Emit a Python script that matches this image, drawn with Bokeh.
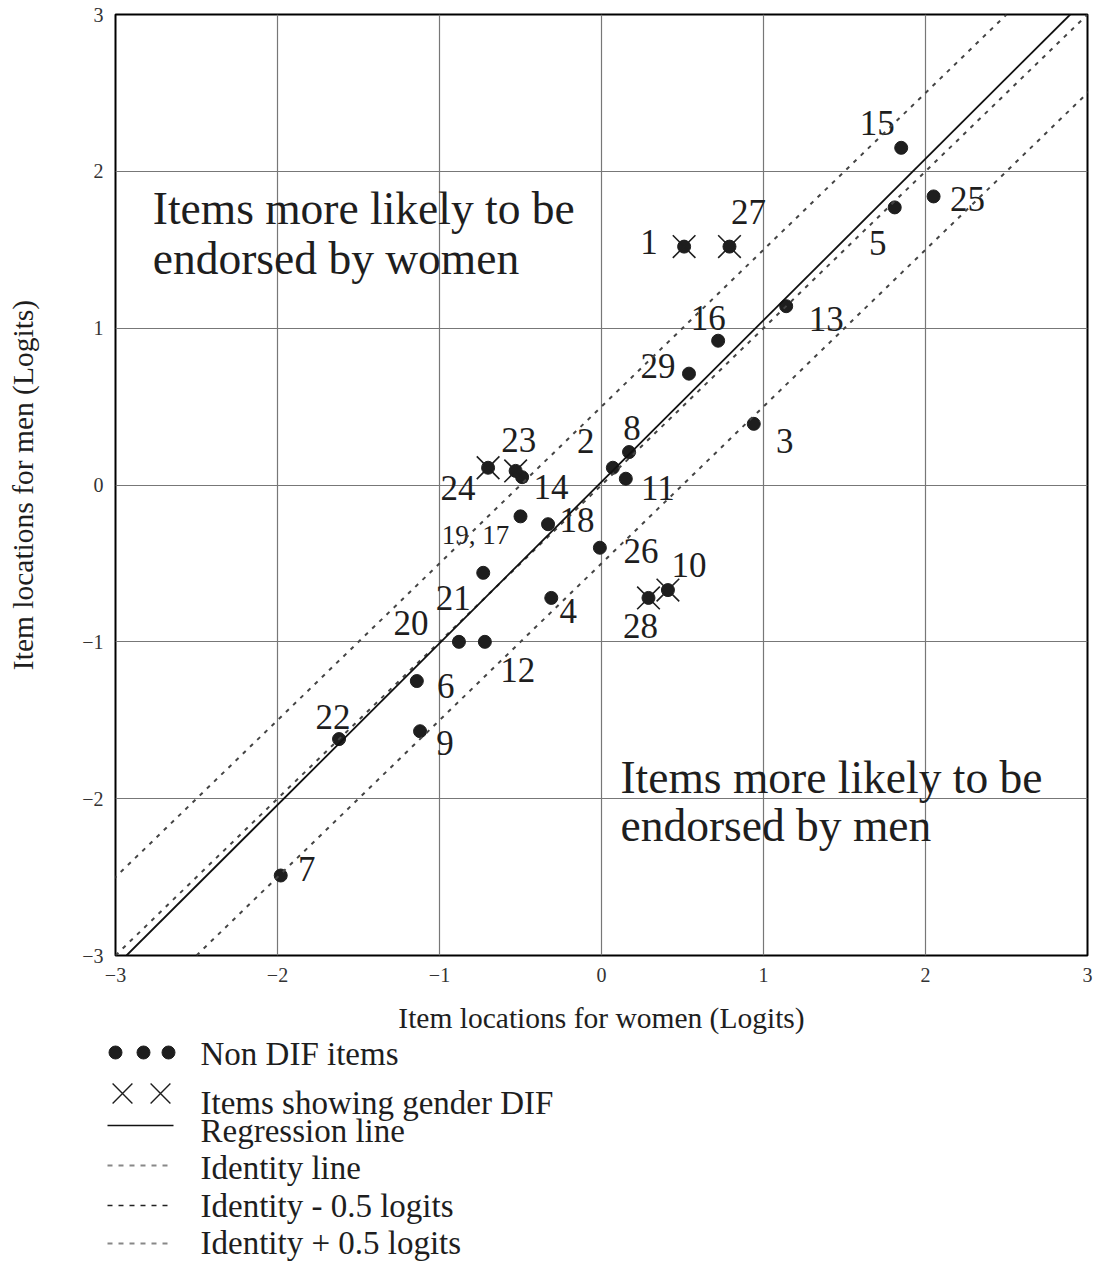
from bokeh.plotting import figure
from bokeh.models import Range1d, FixedTicker, Slope, ColumnDataSource
from bokeh.embed import file_html
from bokeh.resources import INLINE
from bokeh.core.properties import value, field

# ---------------- data ----------------
item_labels = ["1", "2", "3", "4", "5", "6", "7", "8", "9", "10", "11", "12", "13", "14",
               "15", "16", "19, 17", "18", "20", "21", "22", "23", "24", "25", "26", "27",
               "28", "29"]
women_loc = [0.51, 0.07, 0.94, -0.31, 1.81, -1.14, -1.98, 0.17, -1.12, 0.41, 0.15, -0.72,
             1.14, -0.49, 1.85, 0.72, -0.50, -0.33, -0.88, -0.73, -1.62, -0.53, -0.70,
             2.05, -0.01, 0.79, 0.29, 0.54]
men_loc = [1.52, 0.11, 0.39, -0.72, 1.77, -1.25, -2.49, 0.21, -1.57, -0.67, 0.04, -1.00,
           1.14, 0.05, 2.15, 0.92, -0.20, -0.25, -1.00, -0.56, -1.62, 0.09, 0.11,
           1.84, -0.40, 1.52, -0.72, 0.71]
dif_item = [True, False, False, False, False, False, False, False, False, True, False, False,
            False, False, False, False, False, False, False, False, False, True, True,
            False, False, True, True, False]
reg_intercept = 0.02
reg_slope = 1.03
band = 0.5
ticks = [-3, -2, -1, 0, 1, 2, 3]
tick_text = {-3: "\u22123", -2: "\u22122", -1: "\u22121", 0: "0", 1: "1", 2: "2", 3: "3"}
legend_labels = ["Non DIF items", "Items showing gender DIF", "Regression line",
                 "Identity line", "Identity - 0.5 logits", "Identity + 0.5 logits"]

# label placement (screen px offsets from the point, y downwards)
label_offsets = {
    "1": (-35, -5), "2": (-27, -27), "3": (31, 17), "4": (17, 13), "5": (-17, 36),
    "6": (29, 5), "7": (26, -7), "8": (3, -24), "9": (25, 12), "10": (21, -25),
    "11": (32, 9), "12": (33, 28), "13": (40, 13), "14": (29, 10), "15": (-24, -25),
    "16": (-10, -23), "19, 17": (-45, 19), "18": (29, -4), "20": (-48, -19),
    "21": (-30, 25), "22": (-6, -22), "23": (3, -31), "24": (-30, 20), "25": (34, 3),
    "26": (41, 3), "27": (19, -35), "28": (-8, 28), "29": (-31, -8),
}

FONT = "Liberation Serif"
INK = "#1e1e1e"
DOT = "#444444"

src = ColumnDataSource(dict(
    x=women_loc, y=men_loc, label=item_labels,
    dx=[label_offsets[l][0] for l in item_labels],
    dy=[label_offsets[l][1] for l in item_labels],
    fs=["27px" if "," in l else "35px" for l in item_labels],
))
dif_src = ColumnDataSource(dict(
    x=[x for x, d in zip(women_loc, dif_item) if d],
    y=[y for y, d in zip(men_loc, dif_item) if d],
))

W = 1100
H = 1036
p = figure(width=W, height=H, x_range=Range1d(-3, 3), y_range=Range1d(-3, 3),
           toolbar_location=None, output_backend="svg",
           min_border_left=115, min_border_right=13, min_border_top=14,
           min_border_bottom=H - 955)
p.background_fill_color = "white"
p.outline_line_color = "black"
p.outline_line_width = 2

for ax in (p.xaxis[0], p.yaxis[0]):
    ax.ticker = FixedTicker(ticks=ticks)
    ax.major_label_overrides = tick_text
    ax.major_tick_line_color = None
    ax.minor_tick_line_color = None
    ax.major_tick_out = 0
    ax.major_tick_in = 0
    ax.axis_line_color = None
    ax.major_label_text_font = FONT
    ax.major_label_text_font_size = "20px"
    ax.major_label_text_color = "#333333"
    ax.axis_label_text_font = FONT
    ax.axis_label_text_font_size = "29.5px"
    ax.axis_label_text_font_style = "normal"
    ax.axis_label_text_color = INK

p.xaxis.axis_label = "Item locations for women (Logits)"
p.yaxis.axis_label = "Item locations for men (Logits)"
p.xaxis.major_label_standoff = 12
p.yaxis.major_label_standoff = 12
p.xaxis.axis_label_standoff = 17
p.yaxis.axis_label_standoff = 40

p.grid.ticker = FixedTicker(ticks=ticks)
p.grid.grid_line_color = "#777777"
p.grid.grid_line_width = 1.2

# reference lines
p.add_layout(Slope(gradient=1, y_intercept=0, line_color=DOT, line_width=2,
                   line_dash="4 6"))
p.add_layout(Slope(gradient=1, y_intercept=band, line_color=DOT, line_width=2,
                   line_dash="4 6"))
p.add_layout(Slope(gradient=1, y_intercept=-band, line_color=DOT, line_width=2,
                   line_dash="4 6"))
p.add_layout(Slope(gradient=reg_slope, y_intercept=reg_intercept, line_color="#111111",
                   line_width=1.8))

# points
p.scatter(x="x", y="y", source=src, size=13, marker="circle",
          fill_color=INK, line_color=INK)
p.scatter(x="x", y="y", source=dif_src, size=32, marker="x",
          line_color=INK, line_width=1.6)

p.text(x="x", y="y", text="label", source=src, x_offset="dx", y_offset="dy",
       text_font=value(FONT), text_font_size=field("fs"), text_color=INK,
       text_align="center", text_baseline="middle")

# region annotations
p.text(x=[-2.77, -2.77], y=[1.763, 1.444],
       text=["Items more likely to be", "endorsed by women"],
       text_font=value(FONT), text_font_size="45.5px", text_color=INK,
       text_align="left", text_baseline="middle")
p.text(x=[0.117, 0.117], y=[-1.865, -2.171],
       text=["Items more likely to be", "endorsed by men"],
       text_font=value(FONT), text_font_size="45.5px", text_color=INK,
       text_align="left", text_baseline="middle")

# ---------------- legend (drawn as its own panel below) ----------------
LW, LH = W, 1262 - H
leg = figure(width=LW, height=LH, x_range=Range1d(0, LW), y_range=Range1d(LH, 0),
             toolbar_location=None, output_backend="svg",
             x_axis_location=None, y_axis_location=None, min_border=0)
leg.grid.visible = False
leg.outline_line_color = None

leg.scatter(x=[115, 143, 168], y=[16, 16, 16], size=13, marker="circle",
            fill_color=INK, line_color=INK)
leg.scatter(x=[122, 160], y=[57, 57], size=28, marker="x", line_color=INK, line_width=1.4)
leg.line(x=[107, 173], y=[89, 89], line_color="#111111", line_width=1.6)
leg.line(x=[107, 173], y=[129, 129], line_color="#888888", line_width=1.8, line_dash="5 6")
leg.line(x=[107, 173], y=[169, 169], line_color="#222222", line_width=1.4, line_dash="5 6")
leg.line(x=[107, 173], y=[207, 207], line_color="#888888", line_width=1.8, line_dash="5 6")

leg.text(x=[200] * 6, y=[17, 66, 94, 131, 169, 206], text=legend_labels,
         text_font=value(FONT), text_font_size="33px", text_color=INK,
         text_align="left", text_baseline="middle")

open("out.html", "w").write(file_html([p, leg], INLINE))
